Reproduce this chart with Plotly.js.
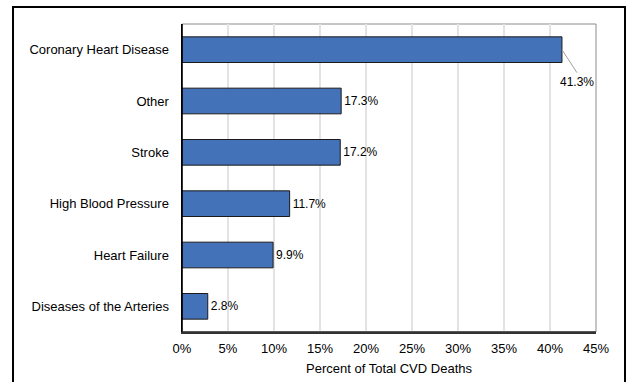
<!DOCTYPE html>
<html><head><meta charset="utf-8">
<script src="https://cdn.plot.ly/plotly-3.0.1.min.js"></script>
<style>html,body{margin:0;padding:0;background:#fff;}#chart{width:627px;height:382px;}</style>
</head><body><div id="chart"></div>
<script>
const categories = ["Diseases of the Arteries","Heart Failure","High Blood Pressure","Stroke","Other","Coronary Heart Disease"];
const values = [2.8, 9.9, 11.7, 17.2, 17.3, 41.3];
const labels = ["2.8%","9.9%","11.7%","17.2%","17.3%","41.3%"];
const tickVals = [0,5,10,15,20,25,30,35,40,45];
const tickText = ["0%","5%","10%","15%","20%","25%","30%","35%","40%","45%"];

const maxIdx = values.indexOf(Math.max(...values));
const barText = labels.map((t,i)=> i===maxIdx ? "" : t);

const data = [{
  type:"bar", orientation:"h", y:categories, x:values,
  text: barText, textposition:"outside", cliponaxis:false,
  textfont:{family:"Liberation Sans, Arial", size:12, color:"#000"},
  marker:{color:"#4472b8", line:{color:"#1a1a1a", width:1}},
  hoverinfo:"none"
}];

const layout = {
  width:627, height:382,
  margin:{l:182, r:31, t:24, b:50},
  paper_bgcolor:"#fff", plot_bgcolor:"#fff",
  bargap:0.5, showlegend:false,
  font:{family:"Liberation Sans, Arial", size:13, color:"#000"},
  xaxis:{range:[0,45], tickvals:tickVals, ticktext:tickText, showgrid:true, gridcolor:"#e3e3e3", gridwidth:1.5,
    zeroline:false, showline:true, linecolor:"#333", linewidth:1.5, mirror:false, ticks:"",
    tickfont:{size:13}, ticklabelstandoff:4, fixedrange:true,
    title:{text:"Percent of Total CVD Deaths", font:{size:13}, standoff:9}},
  yaxis:{type:"category", categoryorder:"array", categoryarray:categories, showgrid:false, zeroline:false,
    showline:true, linecolor:"#000", linewidth:1.5, ticks:"", ticklabelstandoff:9, tickfont:{size:13}},
  annotations:[{
    x: values[maxIdx], y: maxIdx, xref:"x", yref:"y",
    text: labels[maxIdx], showarrow:true, arrowhead:0, arrowwidth:1, arrowcolor:"#a0a0a0",
    ax:15, ay:23, font:{family:"Liberation Sans, Arial", size:12, color:"#000"}, xanchor:"center", yanchor:"top"
  }],
  shapes:[
    {type:"rect", xref:"paper", yref:"paper", x0:0, x1:1, y0:0, y1:1, line:{color:"#8c8c8c", width:1}, layer:"below"},
    {type:"line", xref:"paper", yref:"paper", x0:0, x1:0, y0:0, y1:1, line:{color:"#000", width:1.5}},
    {type:"line", xref:"paper", yref:"paper", x0:0, x1:1, y0:0, y1:0, line:{color:"#333", width:1.5}}
  ]
};
Plotly.newPlot("chart", data, layout, {staticPlot:true, displayModeBar:false});
</script>
<div style="position:absolute;left:12px;top:6px;width:610px;height:400px;border:2px solid #000;border-bottom:none;pointer-events:none;"></div>
</body></html>
